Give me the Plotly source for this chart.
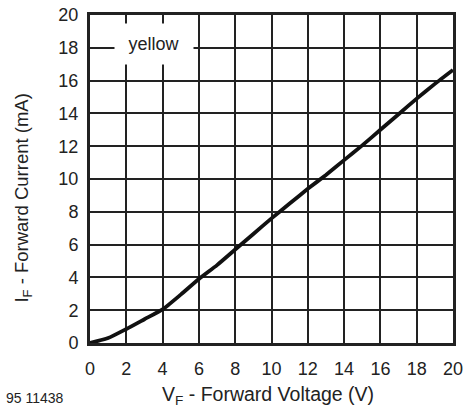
import plotly.graph_objects as go

vf = [0, 1, 2, 3, 4, 5, 6, 7, 8, 9, 10, 11, 12, 13, 14, 15, 16, 17, 18, 19, 20]
if_ma = [0, 0.3, 0.85, 1.45, 2.05, 2.95, 3.9, 4.75, 5.7, 6.65, 7.6, 8.5, 9.4, 10.25, 11.15, 12.05, 13.0, 13.95, 14.9, 15.8, 16.65]

tick_vals = list(range(0, 21, 2))
tick_text = [str(v) for v in tick_vals]

x_title = "V<sub>F</sub> - Forward Voltage (V)"
y_title = "I<sub>F</sub> - Forward Current (mA)"
curve_label = "yellow"
figure_id = "95 11438"

font_family = "Liberation Sans, Arial, sans-serif"
ink = "#222222"

fig = go.Figure()
fig.add_trace(go.Scatter(x=vf, y=if_ma, mode="lines",
                         line=dict(color="#111111", width=3.8, shape="spline", smoothing=0.5),
                         showlegend=False, hoverinfo="skip"))

axis_common = dict(
    range=[0, 20], tickvals=tick_vals, ticktext=tick_text,
    showgrid=True, gridcolor=ink, gridwidth=1.5,
    showline=True, linecolor=ink, linewidth=3, mirror=True,
    zeroline=False, ticks="", fixedrange=True, automargin=False,
    ticklabeloverflow="allow",
    tickfont=dict(family=font_family, size=18, color=ink),
)

fig.update_xaxes(**axis_common, ticklabelstandoff=7)
fig.update_yaxes(**axis_common, ticklabelstandoff=5)

fig.add_annotation(x=3.5, y=18.25, xref="x", yref="y", text=curve_label, showarrow=False,
                   bgcolor="white", width=76, height=38,
                   font=dict(family=font_family, size=18, color=ink))

fig.add_annotation(x=0.489, y=-0.16, xref="paper", yref="paper", text=x_title,
                   showarrow=False, xanchor="center", yanchor="middle",
                   font=dict(family=font_family, size=19.5, color=ink))

fig.add_annotation(x=-0.185, y=0.443, xref="paper", yref="paper", text=y_title,
                   showarrow=False, xanchor="center", yanchor="middle", textangle=-90,
                   font=dict(family=font_family, size=18.5, color=ink))

fig.add_annotation(x=-0.236, y=-0.168, xref="paper", yref="paper", text=figure_id,
                   showarrow=False, xanchor="left", yanchor="middle",
                   font=dict(family=font_family, size=14, color=ink))

fig.update_layout(
    width=463, height=408,
    margin=dict(l=90, r=10, t=15, b=65, autoexpand=False),
    paper_bgcolor="white", plot_bgcolor="white",
)

fig.write_html("out.html", config={"displayModeBar": False},
               post_script="document.body.style.margin='0';document.body.style.padding='0';")
